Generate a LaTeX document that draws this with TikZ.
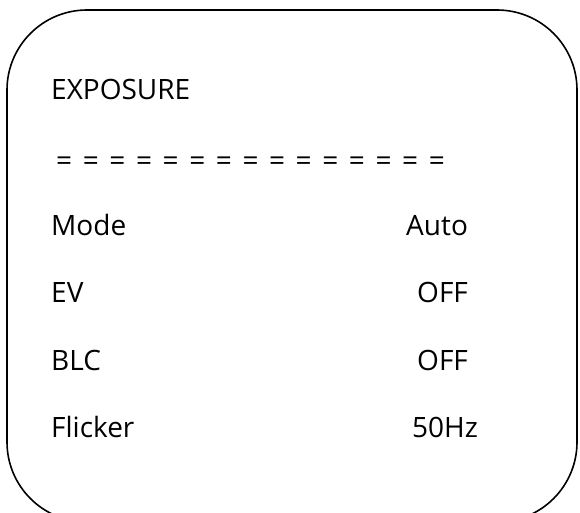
\documentclass[tikz,border=0pt]{standalone}
\usepackage{fontspec}
\setmainfont{Open Sans}
\usepackage{tikz}
\newcommand{\menufont}{\fontsize{28}{32}\selectfont}

\begin{document}
\begin{tikzpicture}[x=1pt,y=-1pt,
	item/.style={anchor=base west, inner sep=0pt, font=\menufont},
	frame/.style={draw=black, line width=1.6pt, rounded corners=80pt}]
	\useasboundingbox (0,0) rectangle (580,513);
	\clip (0,0) rectangle (580,513);
	\draw[frame] (7,10) rectangle (577,522);

	\node[item] (title) at (51,100) {EXPOSURE};
	\node[item] (rule) at (56,170) {\spaceskip=10.6pt = = = = = = = = = = = = = = =};

	\node[item] (mode) at (51,235) {Mode};
	\node[item] (ev) at (51,302) {EV};
	\node[item] (blc) at (51,370) {BLC};
	\node[item] (flicker) at (51,437) {Flicker};

	\node[item] (modeval) at (406,235) {Auto};
	\node[item] (evval) at (417,302) {OFF};
	\node[item] (blcval) at (417,370) {OFF};
	\node[item] (flickerval) at (412,437) {50Hz};
\end{tikzpicture}
\end{document}
